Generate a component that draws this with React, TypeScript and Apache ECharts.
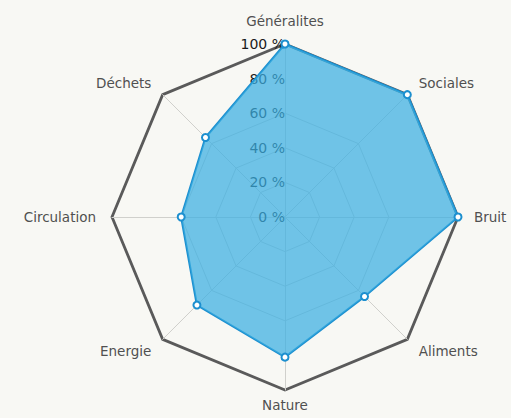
import React, { useEffect, useRef } from "react";
import * as echarts from "echarts";

// Indicators in ECharts order (counter-clockwise from top)
const indicatorNames = ["Généralites", "Déchets", "Circulation", "Energie", "Nature", "Aliments", "Bruit", "Sociales"];
const seriesValues = [100, 65, 60, 72, 81, 65, 100, 100];
const maxValue = 100;
const tickSuffix = " %";

export default function App() {
  const ref = useRef<HTMLDivElement>(null);
  useEffect(() => {
    if (!ref.current) return;
    const chart = echarts.init(ref.current, undefined, { renderer: "svg" });
    const center = [285, 217];
    const radius = 173;
    chart.setOption({
      animation: false,
      backgroundColor: "#f8f8f4",
      radar: [
        {
          center,
          radius,
          shape: "polygon",
          splitNumber: 5,
          startAngle: 90,
          indicator: indicatorNames.map((name, i) => ({
            name,
            max: maxValue,
            min: 0,
            ...(name === "Nature" ? { nameGap: 8 } : {}),
            axisLabel:
              i === 0
                ? {
                    show: true,
                    color: "#1a1a1a",
                    fontSize: 14,
                    fontFamily: "DejaVu Sans",
                    formatter: (v: number) => v + tickSuffix,
                    margin: 0,
                  }
                : { show: false },
          })),
          axisName: { color: "#505050", fontSize: 13.5, fontFamily: "DejaVu Sans" },
          nameGap: 16,
          splitLine: { lineStyle: { color: ["#d0d0cc", "#d0d0cc", "#d0d0cc", "#d0d0cc", "transparent"], width: 1 } },
          splitArea: { show: false },
          axisLine: { lineStyle: { color: "#d0d0cc", width: 1 } },
          axisTick: { show: false },
          axisLabel: { show: false },
        },
        {
          center,
          radius,
          shape: "polygon",
          splitNumber: 1,
          startAngle: 90,
          indicator: indicatorNames.map(() => ({ name: "", max: maxValue, min: 0 })),
          axisName: { show: false },
          splitLine: { lineStyle: { color: "#5a5a5a", width: 2.8 } },
          splitArea: { show: false },
          axisLine: { show: false },
          axisTick: { show: false },
          axisLabel: { show: false },
        },
      ],
      series: [
        {
          type: "radar",
          radarIndex: 0,
          symbol: "emptyCircle",
          symbolSize: 7,
          itemStyle: { color: "#1c8fcf", borderWidth: 1.5 },
          lineStyle: { color: "#1c8fcf", width: 2.2 },
          areaStyle: { color: "#3aaee2", opacity: 0.72 },
          data: [{ value: seriesValues }],
        },
      ],
    });
    return () => chart.dispose();
  }, []);
  return <div ref={ref} style={{ width: 511, height: 418, position: "fixed", left: 0, top: 0 }} />;
}
